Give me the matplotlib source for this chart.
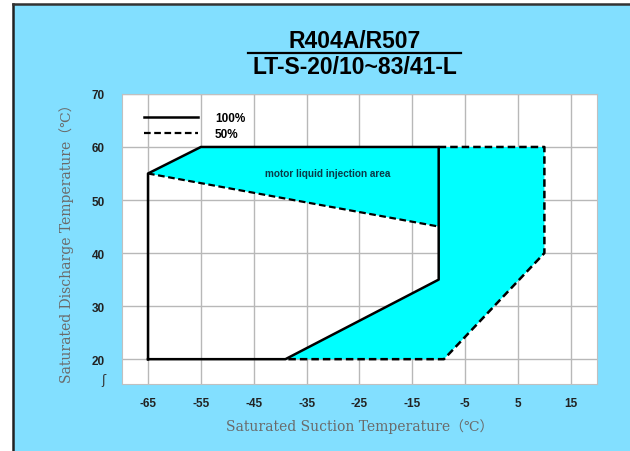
import matplotlib
matplotlib.use("Agg")
import matplotlib.pyplot as plt
from matplotlib.patches import Rectangle, Polygon
from matplotlib.lines import Line2D

plt.rcParams["axes.unicode_minus"] = False

# envelope data (suction temp, discharge temp)
full_x = [-65, -65, -55, -10, -10, -39, -65]
full_y = [20, 55, 60, 60, 35, 20, 20]
half_top_x = [-65, -10]
half_top_y = [55, 45]
half_x = [-10, 10, 10, -9, -39]
half_y = [60, 60, 40, 20, 20]
inj_x = [-65, -55, 10, 10, -9, -39, -10, -10]
inj_y = [55, 60, 60, 40, 20, 20, 35, 45]

x_ticks = [-65, -55, -45, -35, -25, -15, -5, 5, 15]
y_ticks = [20, 30, 40, 50, 60, 70]

BG = "#82DFFF"
CYAN = "#00FFFF"

fig = plt.figure(figsize=(6.3, 4.52), dpi=100)
fig.patch.set_facecolor("white")

# blue panel with dark border on left / top
fig.patches.append(Rectangle((13 / 630, 0), 1 - 13 / 630, 1 - 5 / 452,
                             transform=fig.transFigure, facecolor=BG,
                             edgecolor="none", zorder=-5))
fig.add_artist(Line2D([13 / 630, 13 / 630], [0, 1 - 5 / 452], color="#222222", lw=1.8))
fig.add_artist(Line2D([13 / 630, 1], [1 - 5 / 452, 1 - 5 / 452], color="#333333", lw=1.8))

ax = fig.add_axes([0.193, 0.148, 0.755, 0.642])
ax.set_zorder(2)
ax.set_facecolor("white")

ax.add_patch(Polygon(list(zip(inj_x, inj_y)), closed=True, facecolor=CYAN,
                     edgecolor="none", zorder=2))

dash = (0, (3, 1.6))
ax.plot(full_x, full_y, color="black", lw=1.8, zorder=3, label="100%")
ax.plot(half_top_x, half_top_y, color="black", lw=1.6, ls=dash, zorder=3, label="50%")
ax.plot(half_x, half_y, color="black", lw=1.8, ls=dash, zorder=3)

ax.text(-31, 55, "motor liquid injection area", fontsize=7.2, fontweight="bold",
        color="#0a3a48", ha="center", va="center", family="Liberation Sans", zorder=4)

ax.set_xlim(-70, 20)
ax.set_ylim(15.3, 70)
ax.set_xticks(x_ticks)
ax.set_yticks(y_ticks)
ax.grid(True, color="#b8b8b8", lw=1.0, zorder=1)
ax.set_axisbelow(True)
for s in ax.spines.values():
    s.set_color("#c0c0c0")
ax.tick_params(axis="x", length=0, pad=9)
ax.tick_params(axis="y", length=0, pad=12)
for lab in ax.get_xticklabels() + ax.get_yticklabels():
    lab.set_fontweight("bold")
    lab.set_fontsize(8.5)
    lab.set_family("Liberation Sans")
    lab.set_color("#222222")

lab_font = ["DejaVu Serif", "Noto Sans CJK SC"]
ax.set_xlabel("Saturated Suction Temperature（℃）", fontsize=10, color="#6a6a6a",
              family=lab_font, labelpad=7)
ax.set_ylabel("Saturated Discharge Temperature（℃）", fontsize=10, color="#6a6a6a",
              family=lab_font, labelpad=13)

# axis break mark under the 20 label
ax.text(-73.5, 16.2, "ʃ", fontsize=9, color="#333333", ha="center", va="center",
        clip_on=False)

leg = ax.legend(loc="upper left", bbox_to_anchor=(0.025, 0.975), frameon=False,
                handlelength=4.6, handletextpad=1.4, labelspacing=0.35,
                prop={"family": "Liberation Sans", "weight": "bold", "size": 8.5})

# title block
fig.text(355 / 630, 1 - 42 / 452, "R404A/R507", ha="center", va="center",
         fontsize=16.5, fontweight="bold", family="Liberation Sans")
fig.add_artist(Line2D([248 / 630, 461 / 630], [1 - 54 / 452, 1 - 54 / 452],
                      color="black", lw=1.6))
fig.text(355 / 630, 1 - 68 / 452, "LT-S-20/10~83/41-L", ha="center", va="center",
         fontsize=16.5, fontweight="bold", family="Liberation Sans")

fig.savefig("out.png", dpi=100)
